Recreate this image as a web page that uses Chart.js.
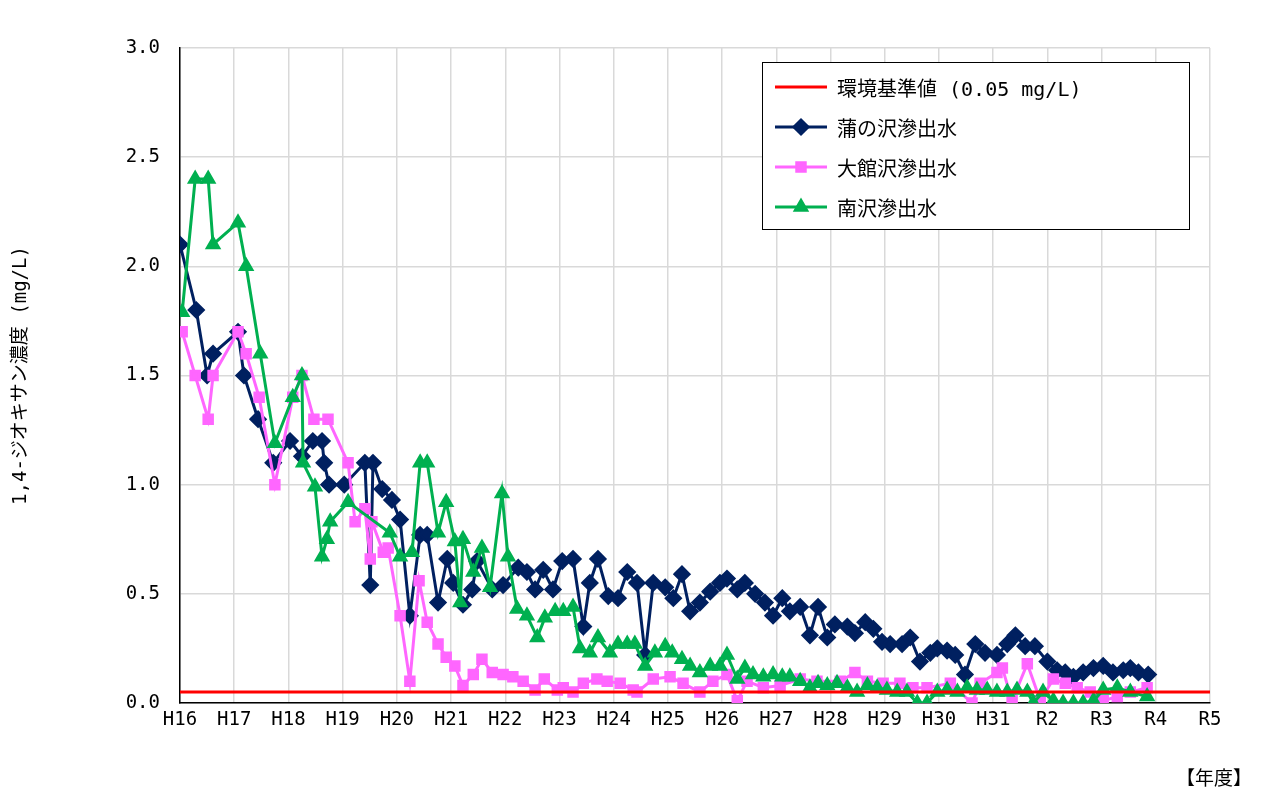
<!DOCTYPE html>
<html><head><meta charset="utf-8">
<script src="https://cdn.jsdelivr.net/npm/chart.js@4"></script>
<style>
body{margin:0;background:#fff;font-family:"DejaVu Sans Mono","Noto Sans CJK JP",monospace;}
#wrap{position:relative;width:1280px;height:800px;}
#legend{position:absolute;left:762px;top:62px;width:428px;height:168px;border:1.5px solid #000;background:#fff;box-sizing:border-box;padding:4px 0 0 8px;font-size:20px;}
.row{height:40px;display:flex;align-items:center;}
.row canvas{margin-right:6px;}
#unit{position:absolute;left:1176px;top:763px;font-size:19px;font-family:"Noto Sans CJK JP";}
</style></head><body>
<div id="wrap"><canvas id="c" width="1280" height="800"></canvas>
<div id="legend"></div><div id="unit">【年度】</div></div>
<script>
const standardValue = 0.05;
const kabaX = [16.00,16.30,16.50,16.61,17.07,17.18,17.44,17.72,18.03,18.25,18.45,18.62,18.66,18.75,19.03,19.41,19.51,19.56,19.73,19.91,20.06,20.24,20.43,20.56,20.76,20.93,21.04,21.22,21.39,21.48,21.76,21.96,22.24,22.40,22.55,22.70,22.88,23.05,23.25,23.44,23.56,23.71,23.90,24.08,24.25,24.43,24.58,24.73,24.95,25.10,25.26,25.41,25.59,25.78,25.96,26.09,26.28,26.42,26.61,26.79,26.94,27.11,27.25,27.44,27.62,27.77,27.94,28.08,28.31,28.45,28.64,28.79,28.95,29.10,29.32,29.47,29.65,29.84,29.97,30.15,30.30,30.48,30.67,30.85,31.07,31.26,31.41,31.59,31.77,32.00,32.18,32.33,32.48,32.66,32.85,33.03,33.21,33.40,33.53,33.68,33.86];
const kabaY = [2.10,1.80,1.50,1.60,1.70,1.50,1.30,1.10,1.20,1.13,1.20,1.20,1.10,1.00,1.00,1.10,0.54,1.10,0.98,0.93,0.84,0.40,0.77,0.77,0.46,0.66,0.55,0.45,0.52,0.65,0.52,0.54,0.62,0.60,0.52,0.61,0.52,0.65,0.66,0.35,0.55,0.66,0.49,0.48,0.60,0.55,0.22,0.55,0.53,0.48,0.59,0.42,0.46,0.51,0.55,0.57,0.52,0.55,0.50,0.46,0.40,0.48,0.42,0.44,0.31,0.44,0.30,0.36,0.35,0.32,0.37,0.34,0.28,0.27,0.27,0.30,0.19,0.23,0.25,0.24,0.22,0.13,0.27,0.23,0.22,0.27,0.31,0.26,0.26,0.19,0.15,0.14,0.12,0.14,0.16,0.17,0.14,0.15,0.16,0.14,0.13];
const odateX = [16.04,16.28,16.52,16.61,17.07,17.22,17.46,17.75,18.08,18.25,18.47,18.73,19.10,19.23,19.41,19.51,19.54,19.75,19.84,20.06,20.24,20.41,20.56,20.76,20.91,21.07,21.22,21.41,21.57,21.76,21.96,22.14,22.33,22.55,22.72,22.96,23.07,23.25,23.44,23.69,23.88,24.12,24.36,24.43,24.73,25.04,25.28,25.59,25.83,26.09,26.28,26.46,26.76,27.07,27.44,27.75,28.18,28.45,28.68,28.97,29.28,29.52,29.78,30.21,30.61,30.76,31.07,31.17,31.35,31.63,31.87,32.11,32.33,32.55,32.79,33.03,33.29,33.53,33.84];
const odateY = [1.70,1.50,1.30,1.50,1.70,1.60,1.40,1.00,1.40,1.50,1.30,1.30,1.10,0.83,0.89,0.66,0.83,0.69,0.71,0.40,0.10,0.56,0.37,0.27,0.21,0.17,0.08,0.13,0.20,0.14,0.13,0.12,0.10,0.06,0.11,0.06,0.07,0.05,0.09,0.11,0.10,0.09,0.06,0.05,0.11,0.12,0.09,0.05,0.10,0.13,0.01,0.10,0.07,0.08,0.11,0.10,0.10,0.14,0.10,0.09,0.09,0.07,0.07,0.09,0.00,0.09,0.14,0.16,0.01,0.18,0.01,0.11,0.09,0.07,0.05,0.01,0.03,0.05,0.07];
const minamiX = [16.04,16.28,16.52,16.61,17.07,17.22,17.48,17.75,18.08,18.25,18.27,18.49,18.62,18.71,18.77,19.10,19.87,20.06,20.28,20.43,20.56,20.76,20.91,21.07,21.17,21.22,21.41,21.57,21.72,21.94,22.05,22.22,22.40,22.59,22.73,22.92,23.07,23.25,23.38,23.56,23.71,23.93,24.08,24.25,24.39,24.58,24.76,24.95,25.08,25.26,25.41,25.59,25.78,25.96,26.09,26.28,26.42,26.57,26.76,26.94,27.11,27.25,27.44,27.62,27.77,27.94,28.12,28.31,28.49,28.68,28.86,29.04,29.23,29.41,29.60,29.78,29.97,30.15,30.34,30.52,30.70,30.89,31.07,31.26,31.44,31.63,31.74,31.92,32.11,32.29,32.48,32.66,32.85,33.03,33.29,33.53,33.84];
const minamiY = [1.79,2.40,2.40,2.10,2.20,2.00,1.60,1.19,1.40,1.50,1.10,0.99,0.67,0.75,0.83,0.92,0.78,0.67,0.69,1.10,1.10,0.78,0.92,0.74,0.46,0.75,0.60,0.71,0.53,0.96,0.67,0.43,0.40,0.30,0.39,0.42,0.42,0.44,0.25,0.23,0.30,0.23,0.27,0.27,0.27,0.17,0.23,0.26,0.23,0.20,0.17,0.14,0.17,0.17,0.22,0.11,0.16,0.13,0.12,0.13,0.12,0.12,0.10,0.07,0.09,0.08,0.09,0.07,0.05,0.08,0.07,0.06,0.05,0.05,0.00,0.00,0.05,0.06,0.05,0.07,0.06,0.06,0.05,0.05,0.06,0.05,0.00,0.05,0.01,0.00,0.00,0.00,0.01,0.06,0.07,0.05,0.03];
const yearTicks = [16,17,18,19,20,21,22,23,24,25,26,27,28,29,30,31,32,33,34,35];
const names = ['環境基準値 (0.05 mg/L)','蒲の沢滲出水','大館沢滲出水','南沢滲出水'];
const colors = ['#FF0000','#002060','#FF66FF','#00B050'];
const styles = ['none','rectRot','rect','triangle'];
const radii = [0,7,6,6.5];

const zip=(xs,ys)=>xs.map((x,i)=>({x,y:ys[i]}));
const series=[zip([16,35],[standardValue,standardValue]),zip(kabaX,kabaY),zip(odateX,odateY),zip(minamiX,minamiY)];
const order=[0,3,2,1];
const datasets=series.map((d,i)=>({label:names[i],data:d,borderColor:colors[i],backgroundColor:colors[i],
  borderWidth:3,pointStyle:styles[i],pointRadius:radii[i],pointHoverRadius:radii[i],order:order[i]}));
const F='"DejaVu Sans Mono","Noto Sans CJK JP", monospace';
new Chart(document.getElementById('c'),{type:'line',data:{datasets},
options:{responsive:false,animation:false,events:[],
 layout:{padding:{top:48,right:70,left:6,bottom:0}},
 plugins:{legend:{display:false},tooltip:{enabled:false}},
 scales:{
  x:{type:'linear',min:16,max:35,afterBuildTicks:s=>{s.ticks=yearTicks.map(v=>({value:v}));},
   ticks:{callback:v=>v<=31?'H'+v:'R'+(v-30),color:'#000',font:{family:F,size:19},padding:6,maxRotation:0,autoSkip:false},
   grid:{color:'#d9d9d9',lineWidth:1.5,drawTicks:false},border:{color:'#000',width:1.5},
   afterFit:s=>{s.height=97;}},
  y:{min:0,max:3,ticks:{stepSize:0.5,callback:v=>v.toFixed(1),color:'#000',font:{family:F,size:19},padding:20},
   grid:{color:'#d9d9d9',lineWidth:1.5,drawTicks:false},border:{color:'#000',width:1.5},
   title:{display:true,text:'1,4-ジオキサン濃度 (mg/L)',color:'#000',font:{family:F,size:19},padding:{bottom:40}},
   afterFit:s=>{s.width=174;}}
 }}});
const lg=document.getElementById('legend');
names.forEach((n,i)=>{const r=document.createElement('div');r.className='row';
 const c=document.createElement('canvas');c.width=60;c.height=20;const g=c.getContext('2d');
 g.strokeStyle=colors[i];g.fillStyle=colors[i];g.lineWidth=3;g.beginPath();g.moveTo(4,10);g.lineTo(56,10);g.stroke();
 if(styles[i]!=='none'){Chart.helpers.drawPoint(g,{pointStyle:styles[i],radius:radii[i],borderWidth:1},30,10);g.fill();}
 r.appendChild(c);const t=document.createElement('span');t.textContent=n;r.appendChild(t);lg.appendChild(r);});
</script></body></html>
